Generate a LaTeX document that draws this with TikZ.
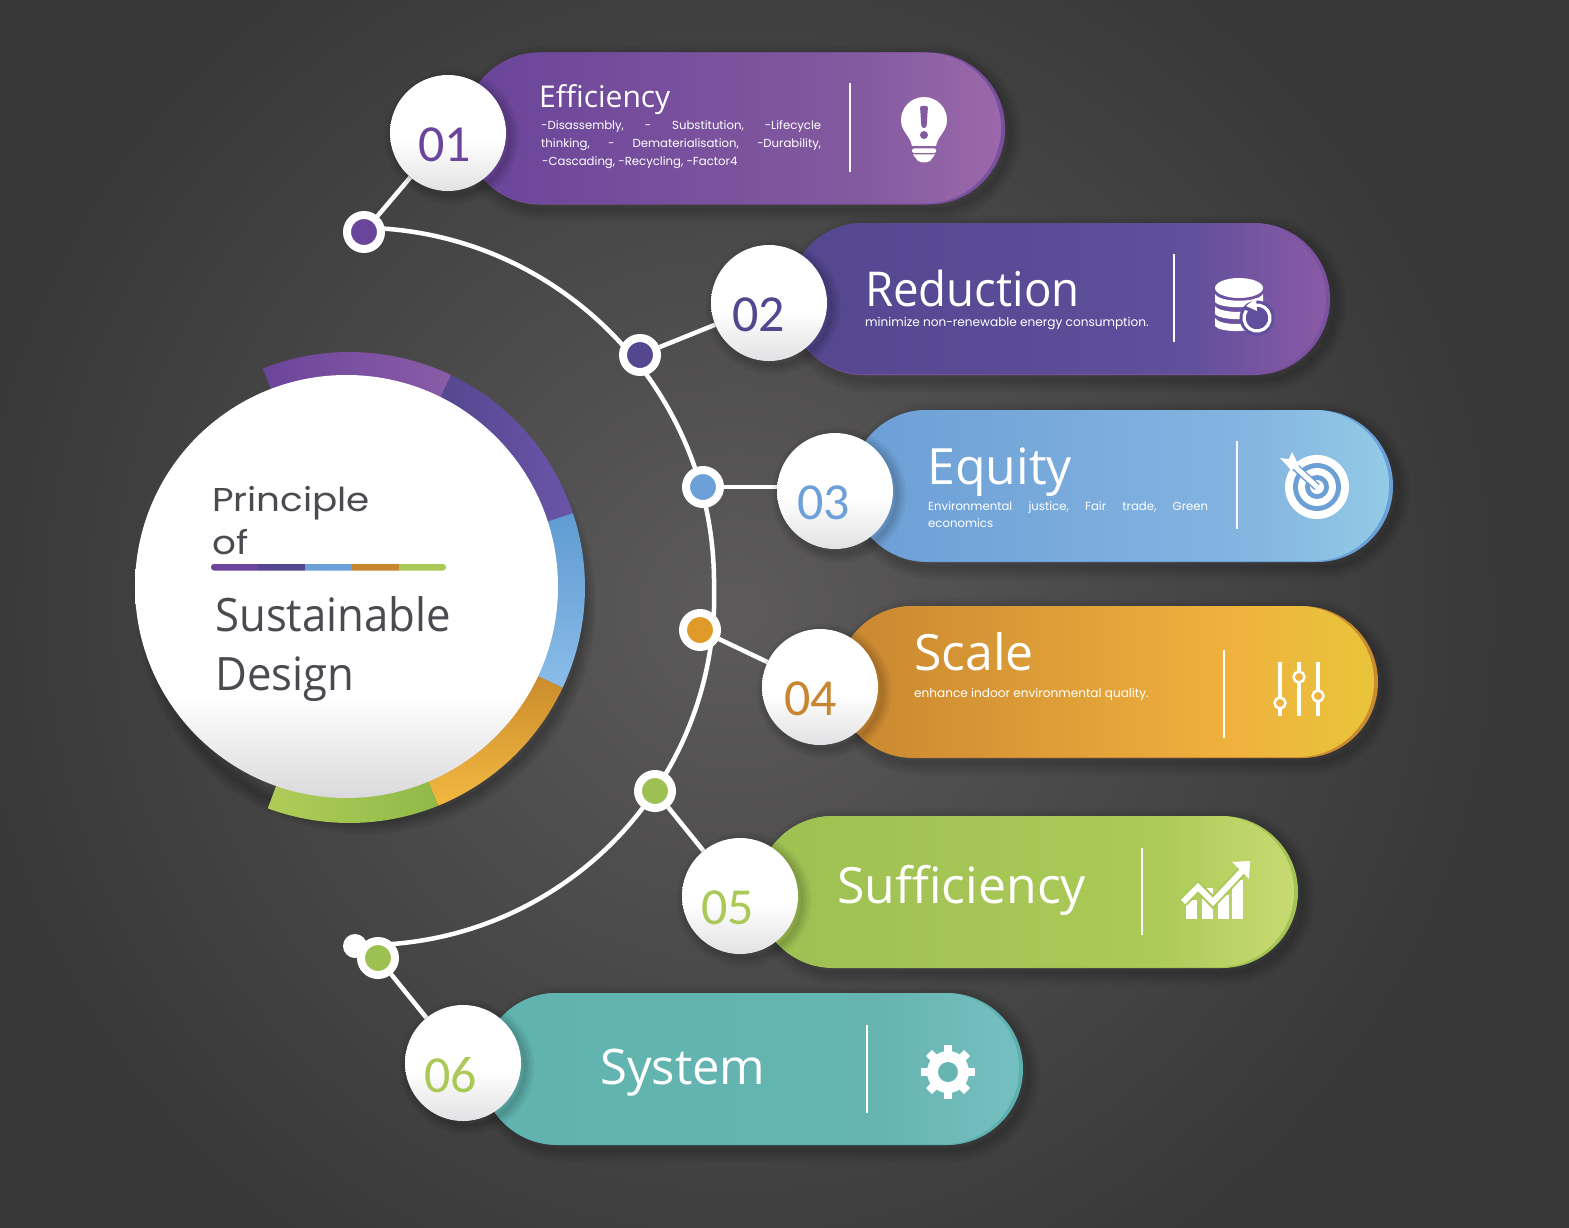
\documentclass[tikz,border=0pt]{standalone}
\usepackage{fontspec}
\setmainfont{Open Sans}
\newfontfamily\narrowf[FakeStretch=0.95]{Open Sans}
\newfontfamily\numf{Carlito}
\newfontfamily\subf{Poppins}
\newfontfamily\widef[FakeStretch=1.13]{Poppins}
\usetikzlibrary{calc}
\pgfdeclarelayer{back}
\pgfdeclarelayer{lines}
\pgfsetlayers{back,lines,main}
\definecolor{bgout}{HTML}{383838}
\definecolor{bgin}{HTML}{5C5A5A}
\definecolor{cpur}{HTML}{6B459B}
\definecolor{cind}{HTML}{54468F}
\definecolor{cblu}{HTML}{6CA0D8}
\definecolor{cora}{HTML}{C98630}
\definecolor{cdot}{HTML}{E09A2A}
\definecolor{cgrn}{HTML}{ABC957}
\definecolor{cgrd}{HTML}{9DC052}
\definecolor{ctea}{HTML}{5FB3AE}
\definecolor{rim1}{HTML}{7B4F9F}
\definecolor{rim2}{HTML}{7B52A2}
\definecolor{rim3}{HTML}{6A9FD8}
\definecolor{rim4}{HTML}{C98A30}
\definecolor{rim5}{HTML}{A3C455}
\definecolor{rim6}{HTML}{5CB0B0}
\definecolor{txtd}{HTML}{4A4A50}
\definecolor{ball}{HTML}{DADADC}
\definecolor{balls}{HTML}{E2E2E4}
\newcommand{\hsh}[4]{\pgfdeclarehorizontalshading{#1}{100bp}{color(0bp)=(#2); color(25bp)=(#2); color(62bp)=(#3); color(75bp)=(#4); color(100bp)=(#4)}}
\definecolor{p1a}{HTML}{6A449A}\definecolor{p1b}{HTML}{835A9F}\definecolor{p1c}{HTML}{9B69AB}
\definecolor{p2a}{HTML}{54468F}\definecolor{p2b}{HTML}{5F4F9C}\definecolor{p2c}{HTML}{8A5AA5}
\definecolor{p3a}{HTML}{6C9FD6}\definecolor{p3b}{HTML}{84B4E0}\definecolor{p3c}{HTML}{93CBE6}
\definecolor{p4a}{HTML}{C98630}\definecolor{p4b}{HTML}{EFB23E}\definecolor{p4c}{HTML}{E8C53A}
\definecolor{p5a}{HTML}{9DC052}\definecolor{p5b}{HTML}{ABCA57}\definecolor{p5c}{HTML}{C8DA72}
\definecolor{p6a}{HTML}{5FB3AE}\definecolor{p6b}{HTML}{66B5B1}\definecolor{p6c}{HTML}{76BFC0}
\hsh{sha}{p1a}{p1b}{p1c}
\hsh{shb}{p2a}{p2b}{p2c}
\hsh{shc}{p3a}{p3b}{p3c}
\hsh{shd}{p4a}{p4b}{p4c}
\hsh{she}{p5a}{p5b}{p5c}
\hsh{shf}{p6a}{p6b}{p6c}
\pgfdeclareverticalshading{wdisc}{100bp}{color(0bp)=(ball); color(25bp)=(ball); color(37bp)=(white); color(100bp)=(white)}
\pgfdeclareverticalshading{wball}{100bp}{color(0bp)=(balls); color(25bp)=(balls); color(47bp)=(white); color(100bp)=(white)}
\definecolor{r1a}{HTML}{6B459B}\definecolor{r1b}{HTML}{8A5CA6}
\definecolor{r2a}{HTML}{54468F}\definecolor{r2b}{HTML}{6A55A8}
\definecolor{r3a}{HTML}{5F9BD2}\definecolor{r3b}{HTML}{8ABCE8}
\definecolor{r4a}{HTML}{C98A2C}\definecolor{r4b}{HTML}{F2B840}
\definecolor{r5a}{HTML}{B0CC58}\definecolor{r5b}{HTML}{8FBA48}
\newcommand{\softshadow}[5]{%
  \foreach \w in {3,8,13,18,24}{\draw[black,opacity=.04,line width=\w pt,rounded corners=#5pt] (#1+5,#2+5) rectangle (#3+5,#4+5);}}
\newcommand{\pillbar}[6]{%
  \softshadow{#1}{#2}{#3}{#4}{76}
  \fill[#5,rounded corners=76pt] (#1,#2) rectangle (#3,#4);
  \shade[shading=#6,rounded corners=75.5pt] (#1,#2) rectangle (#3-4,#4-1);}
\newcommand{\ringseg}[4]{%
  \shade[#3,#4] ($(rc)+(#1:235.5)$) arc[start angle=#1,end angle=#2,radius=235.5] -- ($(rc)+(#2:190)$) arc[start angle=#2,end angle=#1,radius=190] -- cycle;}
\newcommand{\ballshadow}[2]{%
  \foreach \w in {2,6,10,14,19}{\draw[black,opacity=.04,line width=\w pt] (#1+4,#2+4) circle[radius=58];}}
\tikzset{
  numball/.style={circle,minimum size=116pt,inner sep=0pt,shading=wball},
  dotnode/.style={circle,draw=white,line width=8pt,minimum size=34pt,inner sep=0pt},
  conn/.style={draw=white,line width=4.5pt},
  divider/.style={draw=white,line width=2.5pt},
  numtxt/.style={anchor=base west,inner sep=0pt,font=\numf\fontsize{52}{60}\selectfont},
  title/.style={anchor=base west,inner sep=0pt,text=white,font=\fontsize{49}{56}\selectfont},
  subtxt/.style={anchor=base west,inner sep=0pt,text=white,font=\subf\fontsize{11.7}{17.5}\selectfont},
  subwide/.style={subtxt,font=\subf\fontsize{12.1}{17.5}\selectfont},
}
\begin{document}
\begin{tikzpicture}[x=1pt,y=-1pt]
\useasboundingbox (0,0) rectangle (1569,1228);
\begin{pgfonlayer}{back}
\fill[bgout] (0,0) rectangle (1569,1228);
\begin{scope}
\clip (0,0) rectangle (1569,1228);
\shade[inner color=bgin,outer color=bgout] (735,610) circle[radius=770];
\end{scope}
\end{pgfonlayer}

% ----- pills
\pillbar{464}{52.5}{1005}{204.5}{rim1}{sha}
\pillbar{788}{223}{1330}{375}{rim2}{shb}
\pillbar{851}{410}{1393}{562}{rim3}{shc}
\pillbar{837}{606}{1378}{758}{rim4}{shd}
\pillbar{757}{816}{1298}{968}{rim5}{she}
\pillbar{481}{993}{1023}{1145}{rim6}{shf}

% ----- number balls
\ballshadow{448}{133}\ballshadow{769}{303}\ballshadow{835}{491}
\ballshadow{820}{687}\ballshadow{740}{896}\ballshadow{463}{1063}
\node[numball] (c1) at (448,133) {};
\node[numball] (c2) at (769,303) {};
\node[numball] (c3) at (835,491) {};
\node[numball] (c4) at (820,687) {};
\node[numball] (c5) at (740,896) {};
\node[numball] (c6) at (463,1063) {};
\node[numtxt,text=cpur] (n1) at (418,161) {01};
\node[numtxt,text=cind] (n2) at (732,331) {02};
\node[numtxt,text=cblu] (n3) at (797,519) {03};
\node[numtxt,text=cora] (n4) at (784,715) {04};
\node[numtxt,text=cgrn] (n5) at (701,924) {05};
\node[numtxt,text=cgrn] (n6) at (424,1092) {06};

% ----- dots on the arc
\node[dotnode,fill=cpur] (d1) at (364,232) {};
\node[dotnode,fill=cind] (d2) at (640,355) {};
\node[dotnode,fill=cblu] (d3) at (703,487) {};
\node[dotnode,fill=cdot] (d4) at (700,630) {};
\node[dotnode,fill=cgrd] (d5) at (655,791) {};
\node[dotnode,fill=cgrd] (d6) at (378,958) {};
\node[circle,fill=white,minimum size=24pt,inner sep=0pt] (dend) at (355,946) {};
\coordinate (arcstart) at (373,228);

\begin{pgfonlayer}{lines}
\draw[conn] (arcstart) arc[start angle=-87.7,end angle=0.3,radius=355.3]
   arc[start angle=-1.92,end angle=91.76,radius=348.5];
\draw[conn] (d1) -- (c1);
\draw[conn] (d2) -- (c2);
\draw[conn] (d3) -- (d3-|c3);
\draw[conn] (d4) -- (c4);
\draw[conn] (d5) -- (c5);
\draw[conn] (d6) -- (c6);
\end{pgfonlayer}

% ----- centre disc with ring
\coordinate (rc) at (349.5,587.5);
\foreach \w in {3,8,13,18,24}{\draw[black,opacity=.05,line width=\w pt] (366,604) circle[radius=218];}
\ringseg{-111.6}{-64.4}{left color=r1a}{right color=r1b}
\ringseg{-64.4}{-18.4}{left color=r2a}{right color=r2b}
\ringseg{-18.4}{25.2}{top color=r3a}{bottom color=r3b}
\ringseg{25.2}{67.9}{top color=r4a}{bottom color=r4b}
\ringseg{67.9}{110.3}{left color=r5a}{right color=r5b}
\node[circle,minimum size=423pt,inner sep=0pt,shading=wdisc] (core) at (346.5,586.5) {};
\node[anchor=base west,inner sep=0pt,text=txtd,font=\widef\fontsize{33}{40}\selectfont] (tp) at (212,511) {Principle};
\node[anchor=base west,inner sep=0pt,text=txtd,font=\widef\fontsize{33}{40}\selectfont] (to) at (212,554) {of};
\begin{scope}
\clip[rounded corners=3pt] (211,564) rectangle (446,570.5);
\fill[cpur] (211,564) rectangle (258,570.5);
\fill[cind] (258,564) rectangle (305,570.5);
\fill[cblu] (305,564) rectangle (352,570.5);
\fill[cora] (352,564) rectangle (399,570.5);
\fill[cgrn] (399,564) rectangle (446,570.5);
\end{scope}
\node[anchor=base west,inner sep=0pt,text=txtd,font=\narrowf\fontsize{46}{54}\selectfont] (ts) at (215,631) {Sustainable};
\node[anchor=base west,inner sep=0pt,text=txtd,font=\narrowf\fontsize{46}{54}\selectfont] (td) at (215,690) {Design};

% ----- titles
\node[title,font=\fontsize{30}{36}\selectfont] (t1) at (539,108) {Efficiency};
\node[title,font=\narrowf\fontsize{48}{56}\selectfont] (t2) at (865,306) {Reduction};
\node[title,font=\fontsize{50}{58}\selectfont] (t3) at (927,484) {Equity};
\node[title,font=\fontsize{50}{58}\selectfont] (t4) at (914,670) {Scale};
\node[title,font=\fontsize{50}{58}\selectfont] (t5) at (837,903) {Sufficiency};
\node[title] (t6) at (600,1084) {System};

% ----- sub texts
\newcommand{\fitline}[1]{\hbox to 280pt{#1}}
\node[subtxt] (s1a) at (541,130) {\fitline{-Disassembly,\hfill-\hfill Substitution,\hfill-Lifecycle}};
\node[subtxt] (s1b) at (541,147.5) {\fitline{thinking,\hfill-\hfill Dematerialisation,\hfill-Durability,}};
\node[subtxt] (s1c) at (542,165) {-Cascading, -Recycling, -Factor4};
\node[subwide] (s2) at (865,326) {minimize non-renewable energy consumption.};
\node[subtxt] (s3a) at (928,510) {\fitline{Environmental\hfill justice,\hfill Fair\hfill trade,\hfill Green}};
\node[subtxt] (s3b) at (928,527) {economics};
\node[subwide] (s4) at (914,697) {enhance indoor environmental quality.};

% ----- dividers
\draw[divider] (850,83) -- (850,172);
\draw[divider] (1174,254) -- (1174,342);
\draw[divider] (1237,441) -- (1237,529);
\draw[divider] (1224,650) -- (1224,738);
\draw[divider] (1142,848) -- (1142,935);
\draw[divider] (867,1025) -- (867,1113);

% ----- icon: bulb
\fill[white] (912,146) .. controls (910,135) and (901,132) .. (901,120)
   arc[start angle=180,end angle=360,radius=23]
   .. controls (947,132) and (938,135) .. (936,146) -- cycle;
\fill[white,rounded corners=1.5pt] (912,148.5) rectangle (936,153);
\fill[white] (913,154.5) -- (935,154.5) -- (930,161) .. controls (926,163) and (922,163) .. (918,161) -- cycle;
\fill[p1b,rounded corners=2pt] (920,106) -- (928,106) -- (926.5,128) -- (921.5,128) -- cycle;
\fill[p1b] (924,135) circle[radius=4];

% ----- icon: database with arrow
\fill[white] (1215,288) arc[start angle=180,end angle=540,x radius=24,y radius=10];
\fill[white] (1215,294) .. controls (1220,303) and (1258,303) .. (1263,294) -- (1263,302) .. controls (1258,309) and (1220,309) .. (1215,302) -- cycle;
\fill[white] (1215,306) .. controls (1220,314) and (1258,314) .. (1263,306) -- (1263,314) .. controls (1258,321) and (1220,321) .. (1215,314) -- cycle;
\fill[white] (1215,318) .. controls (1220,326) and (1250,326) .. (1263,318) -- (1263,324) .. controls (1255,333) and (1220,333) .. (1215,326) -- cycle;
\fill[p2b] (1257,318) circle[radius=17.5];
\draw[white,line width=3.2pt] (1257,318) ++(-100:13) arc[start angle=-100,end angle=215,radius=13];
\fill[white] (1246,306) -- (1256,298) -- (1257,311) -- cycle;

% ----- icon: target
\fill[white] (1317,487) circle[radius=32];
\fill[p3a] (1317,487) circle[radius=24];
\fill[white] (1317,487) circle[radius=19];
\fill[p3a] (1317,487) circle[radius=12];
\fill[white] (1317,487) circle[radius=7];
\draw[p3a,line width=8pt] (1317,487) -- (1293,465);
\draw[white,line width=5pt] (1317,487) -- (1289,461);
\fill[white] (1280,458) -- (1289,459) -- (1292,452) -- (1299,466) -- (1291,470) -- cycle;

% ----- icon: sliders
\draw[white,line width=4pt] (1280,662) -- (1280,716);
\draw[white,line width=4pt] (1299,662) -- (1299,716);
\draw[white,line width=4pt] (1318,662) -- (1318,716);
\draw[white,line width=2.5pt,fill=p4b] (1280,703) circle[radius=5.5];
\draw[white,line width=2.5pt,fill=p4b] (1299,677) circle[radius=5.5];
\draw[white,line width=2.5pt,fill=p4b] (1318,696) circle[radius=5.5];

% ----- icon: chart
\fill[white] (1186,900) rectangle (1197,919);
\fill[white] (1202,888) rectangle (1213,919);
\fill[white] (1218,895) rectangle (1229,919);
\fill[white] (1232,880) rectangle (1243,919);
\draw[p5b,line width=10pt] (1183,902) -- (1198,887) -- (1213,902) -- (1243,870);
\draw[white,line width=6pt] (1183,902) -- (1198,887) -- (1213,902) -- (1243,870);
\fill[white] (1250,861) -- (1232,862) -- (1249,879) -- cycle;

% ----- icon: gear
\foreach \a in {0,45,...,315}{\draw[white,line width=8.5pt] (948,1072) ++(\a:14) -- ++(\a:13);}
\fill[white] (948,1072) circle[radius=21];
\fill[p6b] (948,1072) circle[radius=10];
\end{tikzpicture}
\end{document}
